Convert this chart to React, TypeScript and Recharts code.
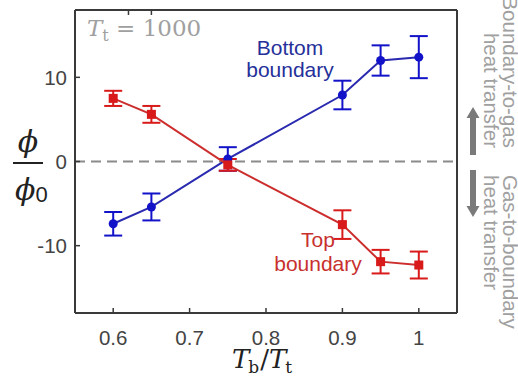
import { LineChart, Line, XAxis, YAxis, ErrorBar, ReferenceLine } from 'recharts';

const ratios = [0.6, 0.65, 0.75, 0.9, 0.95, 1.0];
const bottomPhi = [-7.4, -5.4, 0.3, 7.9, 12.0, 12.4];
const bottomErr = [1.4, 1.6, 1.4, 1.7, 1.8, 2.5];
const topPhi = [7.5, 5.6, -0.4, -7.5, -11.9, -12.3];
const topErr = [0.9, 1.0, 0.7, 1.7, 1.4, 1.6];
const xTicks = [0.6, 0.7, 0.8, 0.9, 1];
const yTicks = [-10, 0, 10];

const rows = ratios.map((r, i) => ({
  r,
  bottom: bottomPhi[i],
  bottomErr: bottomErr[i],
  top: topPhi[i],
  topErr: topErr[i],
}));

const BLUE_LINE = '#2a2ab0';
const BLUE = '#1212c8';
const RED_LINE = '#cc2e2e';
const RED = '#d81a1a';
const FRAME = '#3a3a3a';
const ANNOT = '#a0a0a0';

const tickStyle = { fontFamily: 'Liberation Sans, Arial, sans-serif', fontSize: 20.5, fill: '#444' };

const SquareDot = (props: any) => {
  const { cx, cy } = props;
  if (cx == null || cy == null) return <g />;
  return <rect x={cx - 4.5} y={cy - 4.5} width={9} height={9} fill={RED} />;
};

const NoTick = () => <g />;

const App = () => {
  return (
    <div style={{ position: 'absolute', left: 0, top: 0, width: 518, height: 383, background: '#fff' }}>
      <LineChart width={518} height={383} data={rows} margin={{ top: 0, right: 0, bottom: 0, left: 0 }}>
        <XAxis
          dataKey="r"
          type="number"
          domain={[0.55, 1.05]}
          ticks={xTicks}
          height={70}
          tickSize={-5}
          tickMargin={22}
          tick={tickStyle}
          tickFormatter={(v) => String(v)}
          axisLine={{ stroke: FRAME, strokeWidth: 2 }}
          tickLine={{ stroke: FRAME, strokeWidth: 1.5 }}
        />
        <XAxis
          xAxisId="top"
          orientation="top"
          type="number"
          domain={[0.55, 1.05]}
          ticks={xTicks}
          height={10}
          tickSize={-5}
          tick={NoTick}
          axisLine={{ stroke: FRAME, strokeWidth: 2 }}
          tickLine={{ stroke: FRAME, strokeWidth: 1.5 }}
        />
        <YAxis
          type="number"
          domain={[-18, 18]}
          ticks={yTicks}
          width={75}
          tickSize={-5}
          tickMargin={13}
          tick={tickStyle}
          axisLine={{ stroke: FRAME, strokeWidth: 2 }}
          tickLine={{ stroke: FRAME, strokeWidth: 1.5 }}
        />
        <YAxis
          yAxisId="right"
          orientation="right"
          type="number"
          domain={[-18, 18]}
          ticks={yTicks}
          width={61}
          tickSize={-5}
          tick={NoTick}
          axisLine={{ stroke: FRAME, strokeWidth: 2 }}
          tickLine={{ stroke: FRAME, strokeWidth: 1.5 }}
        />
        <ReferenceLine y={0} stroke="#8a8a8a" strokeWidth={2} strokeDasharray="10 6" />
        <Line
          dataKey="bottom"
          stroke={BLUE_LINE}
          strokeWidth={2}
          dot={{ r: 4.5, fill: BLUE, stroke: BLUE, strokeWidth: 0 }}
          isAnimationActive={false}
        >
          <ErrorBar dataKey="bottomErr" direction="y" width={9} stroke={BLUE} strokeWidth={2} />
        </Line>
        <Line
          dataKey="top"
          stroke={RED_LINE}
          strokeWidth={2}
          dot={<SquareDot />}
          isAnimationActive={false}
        >
          <ErrorBar dataKey="topErr" direction="y" width={9} stroke={RED} strokeWidth={2} />
        </Line>
      </LineChart>
      <svg
        width={518}
        height={383}
        style={{ position: 'absolute', left: 0, top: 0, pointerEvents: 'none' }}
      >
        {/* T_t = 1000 */}
        <text x={87} y={36} fontFamily="DejaVu Serif, serif" fontSize={23} fill={ANNOT}>
          <tspan fontStyle="italic">T</tspan>
          <tspan fontSize={16} dy={5}>t</tspan>
          <tspan dy={-5}> = 1000</tspan>
        </text>

        {/* series labels */}
        <g fontFamily="Liberation Sans, Arial, sans-serif" fontSize={21} textAnchor="middle">
          <text x={290} y={55} fill="#25309a">Bottom</text>
          <text x={290} y={77} fill="#25309a">boundary</text>
          <text x={318} y={247} fill="#c8302e">Top</text>
          <text x={318} y={271} fill="#c8302e">boundary</text>
        </g>

        {/* x label */}
        <text x={232} y={368} fontFamily="DejaVu Serif, serif" fontSize={26} fill="#222">
          <tspan fontStyle="italic">T</tspan>
          <tspan fontSize={17} dy={5} dx={-1}>b</tspan>
          <tspan dy={-5} dx={1}>/</tspan>
          <tspan fontStyle="italic">T</tspan>
          <tspan fontSize={17} dy={5} dx={-1}>t</tspan>
        </text>

        {/* y label */}
        <g fontFamily="DejaVu Serif, serif" fill="#222">
          <text x={28} y={152} textAnchor="middle" fontSize={30} fontStyle="italic">ϕ</text>
          <line x1={13} x2={43} y1={163} y2={163} stroke="#222" strokeWidth={2} />
          <text x={15} y={200} fontSize={30}>
            <tspan fontStyle="italic">ϕ</tspan>
            <tspan fontSize={22} dy={2} fontFamily="Liberation Sans, Arial, sans-serif">0</tspan>
          </text>
        </g>

        {/* right side heat transfer annotation */}
        <g fontFamily="Liberation Sans, Arial, sans-serif" fontSize={20.5} fill={ANNOT}>
          <text transform="translate(503,148) rotate(90)" textAnchor="end">Boundary-to-gas</text>
          <text transform="translate(484,148) rotate(90)" textAnchor="end">heat transfer</text>
          <text transform="translate(503,175) rotate(90)" textAnchor="start">Gas-to-boundary</text>
          <text transform="translate(484,175) rotate(90)" textAnchor="start">heat transfer</text>
        </g>
        <path d="M473 107 L479.5 118 L476 118 L476 155 L470 155 L470 118 L466.5 118 Z" fill="#7a7a7a" />
        <path d="M473 217 L479.5 206 L476 206 L476 170 L470 170 L470 206 L466.5 206 Z" fill="#7a7a7a" />
      </svg>
    </div>
  );
};

export default App;
